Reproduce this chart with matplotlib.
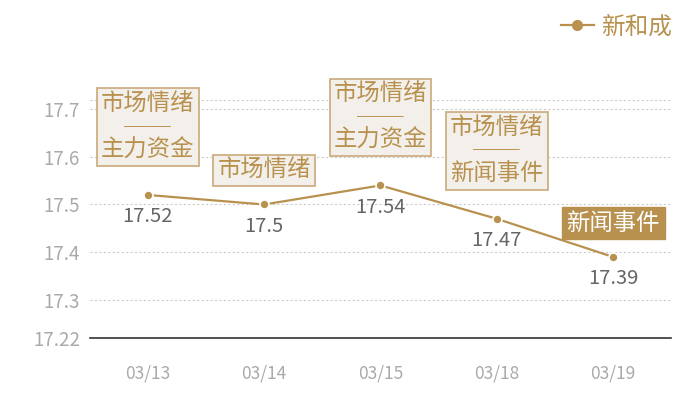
import matplotlib.pyplot as plt
from matplotlib.lines import Line2D

plt.rcParams["font.family"] = ["Noto Sans CJK SC", "DejaVu Sans"]

dates = ["03/13", "03/14", "03/15", "03/18", "03/19"]
prices = [17.52, 17.5, 17.54, 17.47, 17.39]
price_labels = ["17.52", "17.5", "17.54", "17.47", "17.39"]
events = ["市场情绪\n──\n主力资金", "市场情绪", "市场情绪\n──\n主力资金",
          "市场情绪\n──\n新闻事件", "新闻事件"]
highlight = [False, False, False, False, True]
y_ticks = [17.22, 17.3, 17.4, 17.5, 17.6, 17.7]
y_top = 17.72
series_name = "新和成"

TAN = "#b8914f"
BORDER = "#c9a979"
FILL = "#f3f0eb"

fig = plt.figure(figsize=(7, 4), dpi=100)
ax = fig.add_axes([0.128, 0.155, 0.831, 0.596])

x = list(range(len(dates)))
ax.plot(x, prices, color=TAN, lw=1.6, marker="o", ms=6.5,
        markeredgecolor="white", markeredgewidth=1.2, zorder=3)

for i, (p, lab, ev, hl) in enumerate(zip(prices, price_labels, events, highlight)):
    ax.annotate(lab, (i, p), xytext=(0, -8), textcoords="offset points",
                ha="center", va="top", fontsize=14.5, color="#666666")
    multi = "\n" in ev
    if hl:
        box = dict(boxstyle="square,pad=0.2", fc=TAN, ec=TAN, lw=1)
        tc = "white"
    else:
        box = dict(boxstyle="square,pad=0.18", fc=FILL, ec=BORDER, lw=1.2)
        tc = TAN
    ax.annotate(ev, (i, p), xytext=(0, 24 if multi else 16), textcoords="offset points",
                ha="center", va="bottom", fontsize=16.8, color=tc,
                linespacing=1.0, bbox=box, zorder=4)

ax.set_xlim(-0.5, len(dates) - 0.5)
ax.set_ylim(y_ticks[0], y_top)
ax.set_xticks(x)
ax.set_xticklabels(dates, color="#aaaaaa", fontsize=12.5)
ax.set_yticks(y_ticks)
ax.set_yticklabels([str(t) for t in y_ticks], color="#aaaaaa", fontsize=13.5)
ax.tick_params(axis="both", length=0)
ax.tick_params(axis="x", pad=19)
ax.tick_params(axis="y", pad=7)

ax.grid(axis="y", ls=(0, (2, 2)), color="#cccccc", lw=0.8)
ax.axhline(y_top, ls=(0, (2, 2)), color="#cccccc", lw=0.8)
for s in ["top", "right", "left"]:
    ax.spines[s].set_visible(False)
ax.spines["bottom"].set_color("#333333")
ax.spines["bottom"].set_linewidth(1.2)

handle = Line2D([], [], color=TAN, lw=1.6, marker="o", ms=7, markeredgecolor=TAN)
leg = fig.legend([handle], [series_name], loc="upper right",
                 bbox_to_anchor=(0.99, 1.015), frameon=False, fontsize=17,
                 handlelength=1.4, handletextpad=0.3)
for t in leg.get_texts():
    t.set_color(TAN)

fig.savefig("out.png", dpi=100)
